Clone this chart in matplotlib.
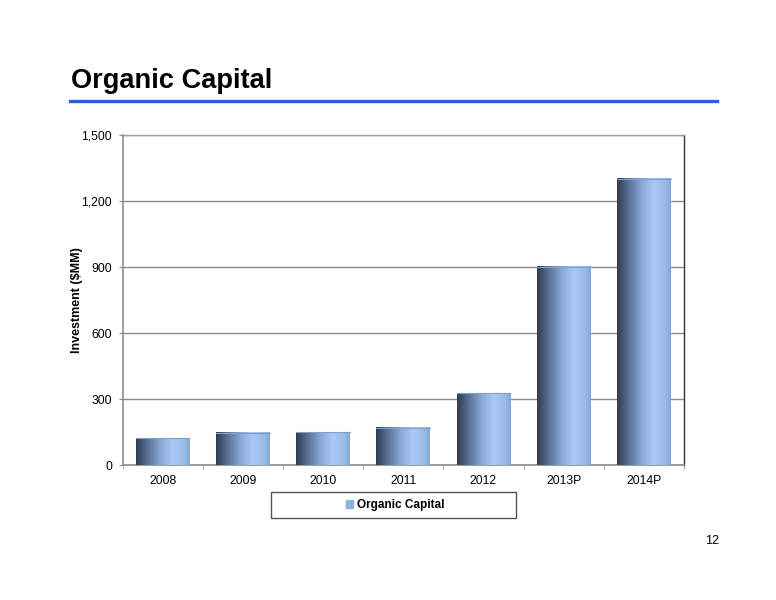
import numpy as np
import matplotlib.pyplot as plt
from matplotlib.colors import LinearSegmentedColormap
from matplotlib.patches import Rectangle, Patch
from matplotlib.lines import Line2D
from matplotlib.ticker import FuncFormatter

plt.rcParams['font.family'] = ['Liberation Sans', 'DejaVu Sans']

# data
years = ["2008", "2009", "2010", "2011", "2012", "2013P", "2014P"]
capital = [121, 147, 148, 170, 326, 901, 1301]
y_ticks = [0, 300, 600, 900, 1200, 1500]

# shaded bar look: dark left edge -> light blue -> slightly darker right edge
bar_cmap = LinearSegmentedColormap.from_list(
    "bar_shade",
    [(0.0, "#2c3b50"), (0.18, "#52698c"), (0.45, "#86a6d3"),
     (0.68, "#a8caf7"), (0.88, "#9bbbe8"), (1.0, "#88a6d3")])
shade = np.linspace(0, 1, 256).reshape(1, -1)

fig = plt.figure(figsize=(7.76, 6.0), dpi=100)

# slide title and rule
fig.text(71 / 776, 1 - 88 / 600, "Organic Capital", fontsize=19.6,
         fontweight="bold", ha="left", va="baseline")
fig.add_artist(Line2D([70 / 776, 717 / 776], [1 - 100.5 / 600] * 2,
                      color="#2f5de0", lw=2.4, transform=fig.transFigure))

ax_l, ax_r, ax_t, ax_b = 122.5, 684, 135, 465
ax = fig.add_axes([ax_l / 776, 1 - ax_b / 600, (ax_r - ax_l) / 776, (ax_b - ax_t) / 600])

x = np.arange(len(years))
bw = 0.67
bars = ax.bar(x, capital, width=bw, color="none", zorder=3)
for b in bars:
    x0, w, h = b.get_x(), b.get_width(), b.get_height()
    ax.imshow(shade, cmap=bar_cmap, aspect="auto", extent=(x0, x0 + w, 0, h),
              zorder=3, interpolation="bilinear")
    ax.plot([x0, x0 + w], [h, h], color="#7f9fcf", lw=0.8, zorder=4)

ax.set_xlim(-0.5, len(years) - 0.5)
ax.set_ylim(0, 1500)
ax.set_yticks(y_ticks)
ax.yaxis.set_major_formatter(FuncFormatter(lambda v, p: f"{int(v):,}"))
ax.set_xticks(x)
ax.set_xticklabels(years)
ax.set_xticks(np.arange(-0.5, len(years) + 0.5, 1), minor=True)
ax.tick_params(axis="x", which="major", length=0, labelsize=8.7, pad=7)
ax.tick_params(axis="x", which="minor", length=3, color="#9a9a9a", direction="out")
ax.tick_params(axis="y", length=3, color="#888888", labelsize=8.7, pad=4.5)

ax.grid(axis="y", color="#8a8a8a", lw=1.0, zorder=1)
ax.set_axisbelow(True)
for side in ["left", "bottom"]:
    ax.spines[side].set_color("#8c8c8c")
    ax.spines[side].set_linewidth(1.2)
ax.spines["top"].set_color("#a0a0a0")
ax.spines["right"].set_color("#333333")
ax.spines["top"].set_linewidth(1.0)
ax.spines["right"].set_linewidth(1.0)

ax.set_ylabel("Investment ($MM)", fontsize=9, fontweight="bold")
ax.yaxis.set_label_coords((83 - ax_l) / (ax_r - ax_l), 0.5)

# legend box under the plot
fig.add_artist(Rectangle((271 / 776, 1 - 518 / 600), 245 / 776, 26 / 600,
                         transform=fig.transFigure, fill=False,
                         edgecolor="#555555", lw=1.0))
fig.legend(handles=[Patch(color="#8fb0e0", label="Organic Capital")],
           loc="center", bbox_to_anchor=(395 / 776, 1 - 505 / 600),
           frameon=False, prop={"size": 8.5, "weight": "bold"},
           handlelength=0.6, handleheight=0.6, handletextpad=0.3)

fig.text(719 / 776, 1 - 541 / 600, "12", fontsize=9, ha="right", va="center")

fig.savefig("out.png", dpi=100)
